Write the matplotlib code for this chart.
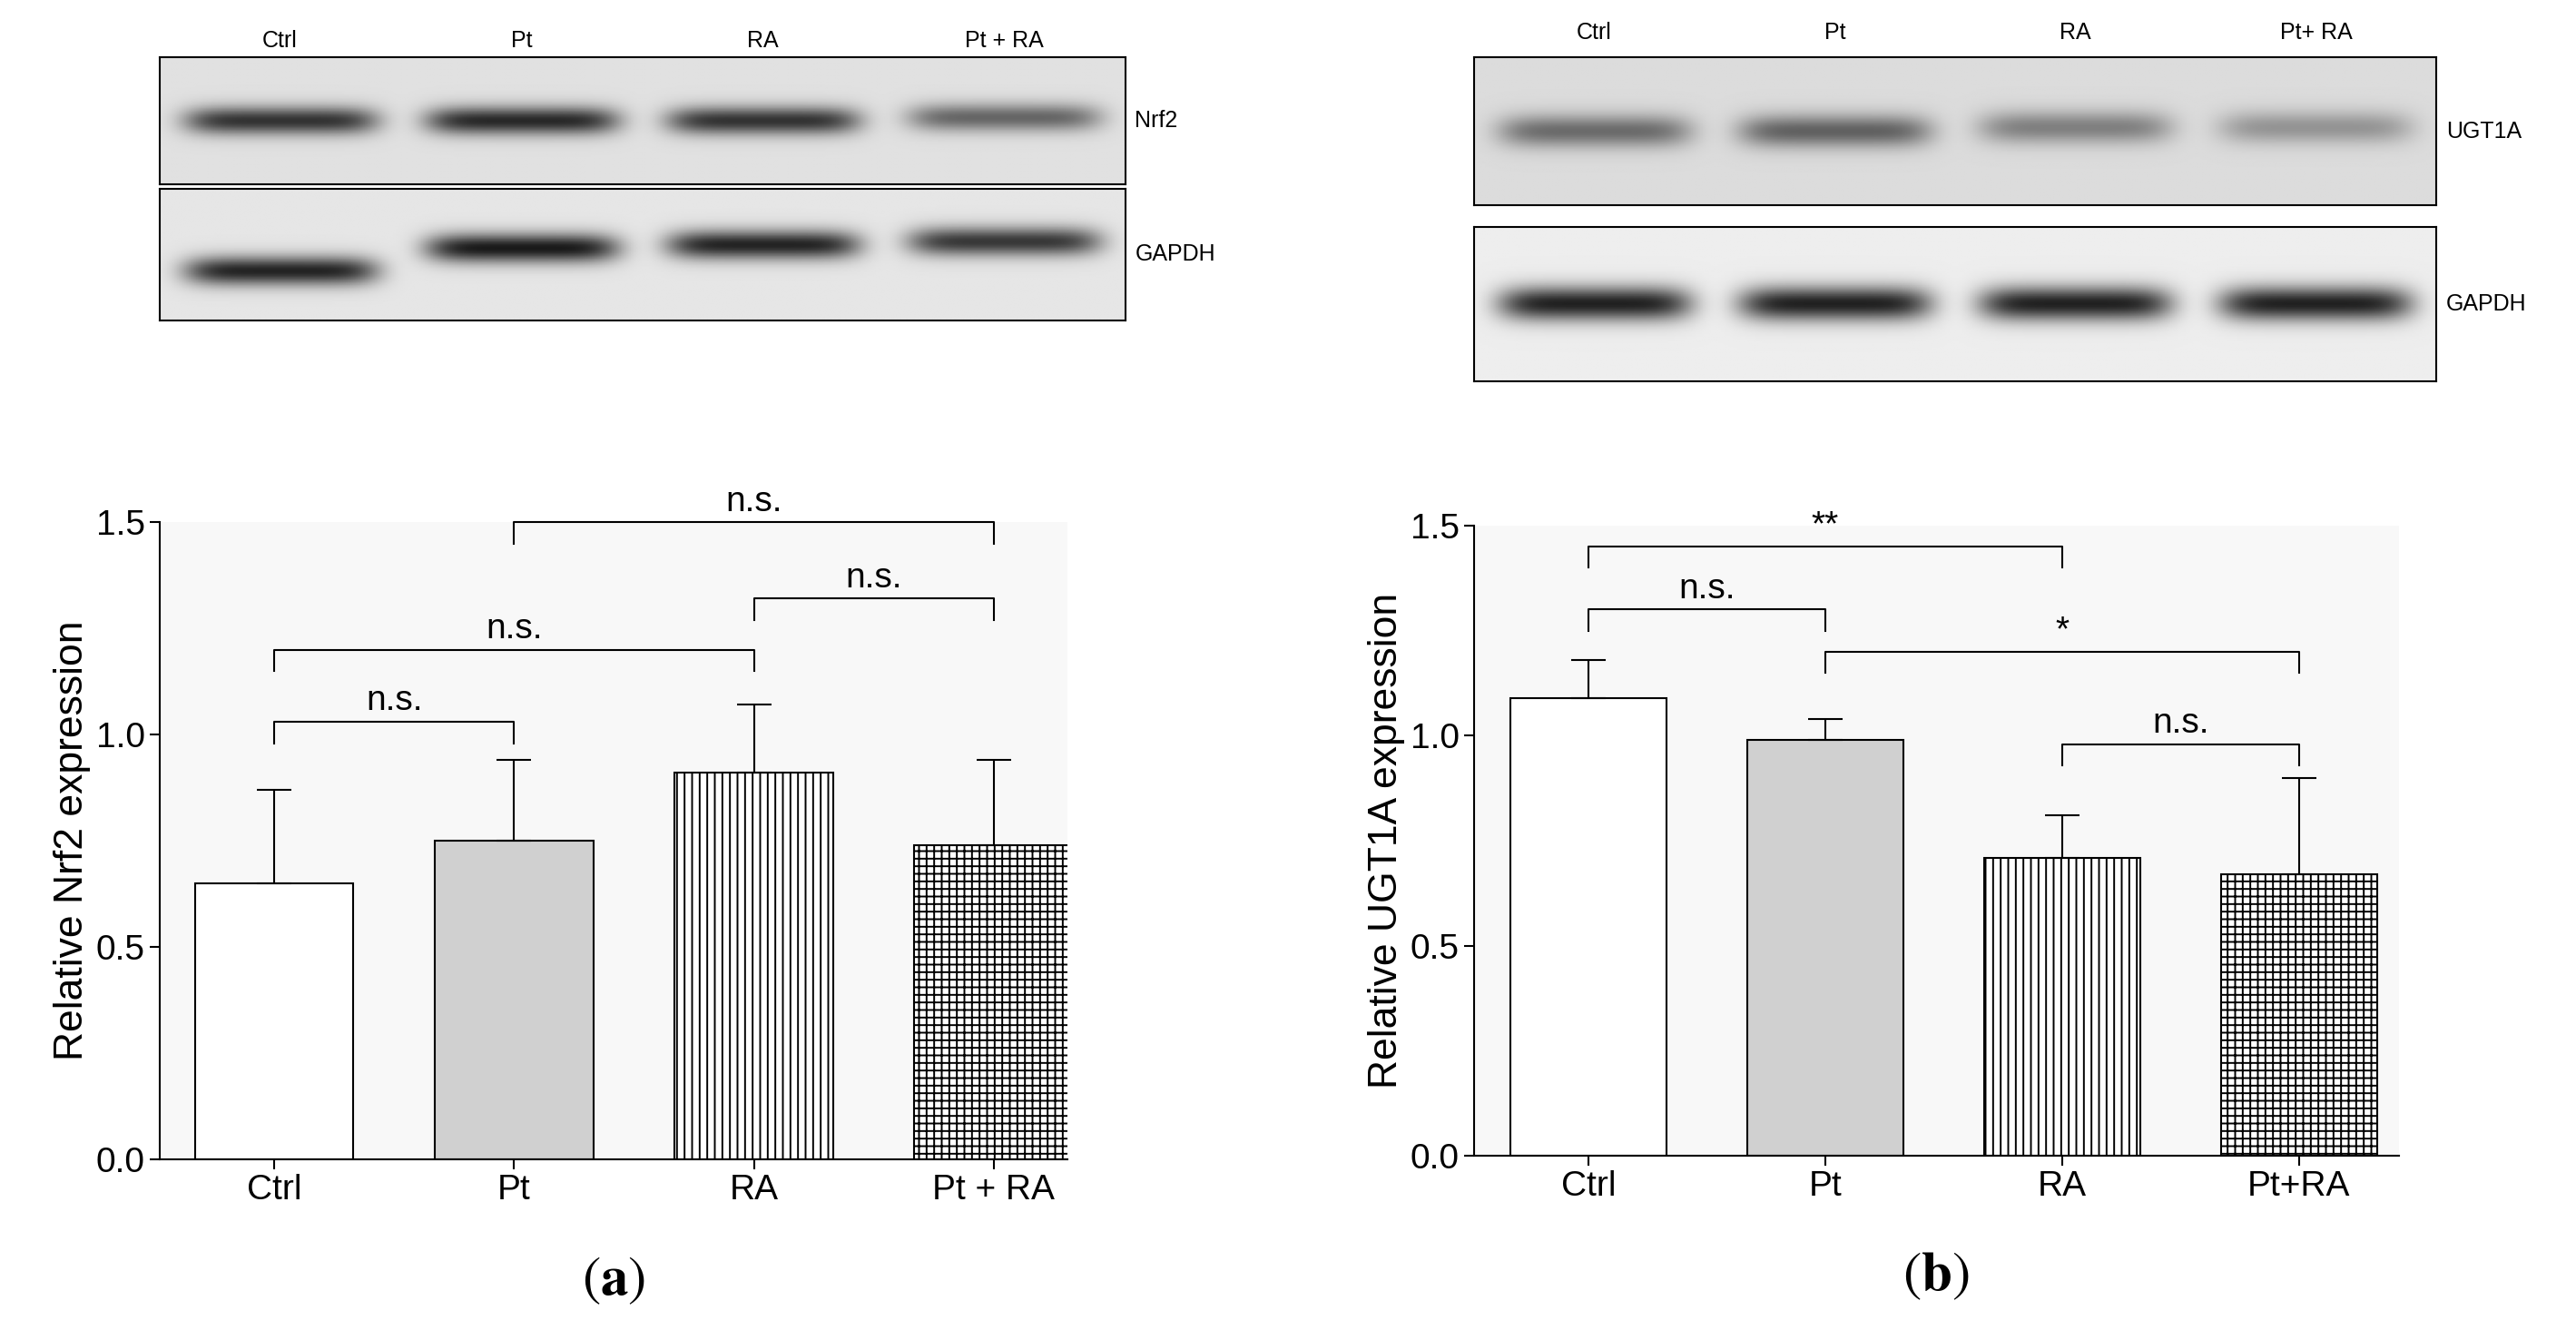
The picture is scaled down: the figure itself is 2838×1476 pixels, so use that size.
import numpy as np
import matplotlib
matplotlib.use("Agg")
import matplotlib.pyplot as plt

plt.rcParams['font.family'] = ['Liberation Sans', 'DejaVu Sans']
plt.rcParams['hatch.linewidth'] = 1.4
plt.rcParams['mathtext.fontset'] = 'stix'

groups_a = ["Ctrl", "Pt", "RA", "Pt + RA"]
nrf2_mean = [0.65, 0.75, 0.91, 0.74]
nrf2_err = [0.22, 0.19, 0.16, 0.20]

groups_b = ["Ctrl", "Pt", "RA", "Pt+RA"]
ugt_mean = [1.09, 0.99, 0.71, 0.67]
ugt_err = [0.09, 0.05, 0.10, 0.23]

# brackets: (i, j, y, label)
brackets_a = [(0, 1, 1.03, "n.s."), (0, 2, 1.20, "n.s."), (2, 3, 1.32, "n.s."), (1, 3, 1.50, "n.s.")]
brackets_b = [(0, 1, 1.30, "n.s."), (0, 2, 1.45, "**"), (1, 3, 1.20, "*"), (2, 3, 0.98, "n.s.")]

# blot band appearance: (lane darkness, band y offset)
nrf2_bands = [(0.85, 0.0), (0.9, 0.0), (0.85, 0.0), (0.6, 0.05)]
gapdh_a_bands = [(0.95, -0.25), (1.0, 0.1), (0.95, 0.15), (0.85, 0.2)]
ugt_bands = [(0.55, 0.0), (0.6, 0.0), (0.45, 0.05), (0.35, 0.05)]
gapdh_b_bands = [(1.0, 0.0), (1.0, 0.0), (1.0, 0.0), (1.0, 0.0)]

W, H = 1568.0, 816.0
fig = plt.figure(figsize=(28.38, 14.76), dpi=100)


def frac(x0, y0, x1, y1):
    return [x0 / W, 1 - y1 / H, (x1 - x0) / W, (y1 - y0) / H]


def blot(rect, bands, label, bg=0.9, width=0.1):
    ax = fig.add_axes(frac(*rect))
    nx, ny = 400, 100
    xs = np.linspace(0, 1, nx)
    ys = np.linspace(1, -1, ny)
    X, Y = np.meshgrid(xs, ys)
    img = np.full((ny, nx), bg)
    for k, (d, off) in enumerate(bands):
        cx = 0.125 + 0.25 * k
        prof = np.exp(-((X - cx) / width) ** 6) * np.exp(-((Y - off) / 0.22) ** 2)
        img -= d * 0.8 * prof
    ax.imshow(img, cmap="gray", vmin=0, vmax=1, aspect="auto", extent=(0, 1, -1, 1))
    ax.set_xticks([]); ax.set_yticks([])
    for s in ax.spines.values():
        s.set_linewidth(1.5)
    ax.text(1.01, 0.5, label, transform=ax.transAxes, fontsize=18, va="center")
    return ax


blot((97, 35, 685, 112), nrf2_bands, "Nrf2", bg=0.88)
blot((97, 115, 685, 195), gapdh_a_bands, "GAPDH", bg=0.9)
blot((897, 35, 1483, 125), ugt_bands, "UGT1A", bg=0.86)
blot((897, 138, 1483, 232), gapdh_b_bands, "GAPDH", bg=0.93)

for k, g in enumerate(groups_a):
    fig.text((97 + (685 - 97) * (0.125 + 0.25 * k)) / W, 1 - 25 / H, g, ha="center", va="center", fontsize=18)
for k, g in enumerate(["Ctrl", "Pt", "RA", "Pt+ RA"]):
    fig.text((897 + (1483 - 897) * (0.125 + 0.25 * k)) / W, 1 - 20 / H, g, ha="center", va="center", fontsize=18)

hatches = ["", "", "||", "++"]
faces = ["white", "#d0d0d0", "white", "white"]


def chart(rect, xlim, names, means, errs, brackets, ylabel, tag):
    ax = fig.add_axes(frac(*rect))
    ax.set_facecolor("#f8f8f8")
    x = np.arange(len(names))
    ax.bar(x, means, width=0.66, color=faces, edgecolor="black", linewidth=1.5, hatch=hatches, zorder=2)
    ax.errorbar(x, means, yerr=[np.zeros(len(errs)), errs], fmt="none", ecolor="black",
                elinewidth=1.5, capsize=14, capthick=1.5, zorder=3)
    ax.set_xlim(*xlim)
    ax.set_ylim(0, 1.5)
    ax.set_yticks([0, 0.5, 1.0, 1.5])
    ax.set_xticks(x)
    ax.set_xticklabels(names)
    ax.tick_params(labelsize=28, width=1.5, length=8)
    for s in ["top", "right"]:
        ax.spines[s].set_visible(False)
    for s in ["left", "bottom"]:
        ax.spines[s].set_linewidth(1.5)
    ax.set_ylabel(ylabel, fontsize=32)
    for i, j, y, lab in brackets:
        ax.plot([i, i, j, j], [y - 0.05, y, y, y - 0.05], color="black", lw=1.5, clip_on=False)
        ax.text((i + j) / 2, y + 0.01, lab, ha="center", va="bottom", fontsize=28)
    ax.text(0.5, -0.15, r"$(\mathbf{%s})$" % tag, transform=ax.transAxes, ha="center", va="top",
            fontsize=44)
    return ax


chart((97, 318, 650, 706), (-0.48, 3.31), groups_a, nrf2_mean, nrf2_err, brackets_a,
      "Relative Nrf2 expression", "a")
chart((897, 320, 1460, 704), (-0.485, 3.42), groups_b, ugt_mean, ugt_err, brackets_b,
      "Relative UGT1A expression", "b")

fig.savefig("out.png", dpi=100, facecolor="white")
